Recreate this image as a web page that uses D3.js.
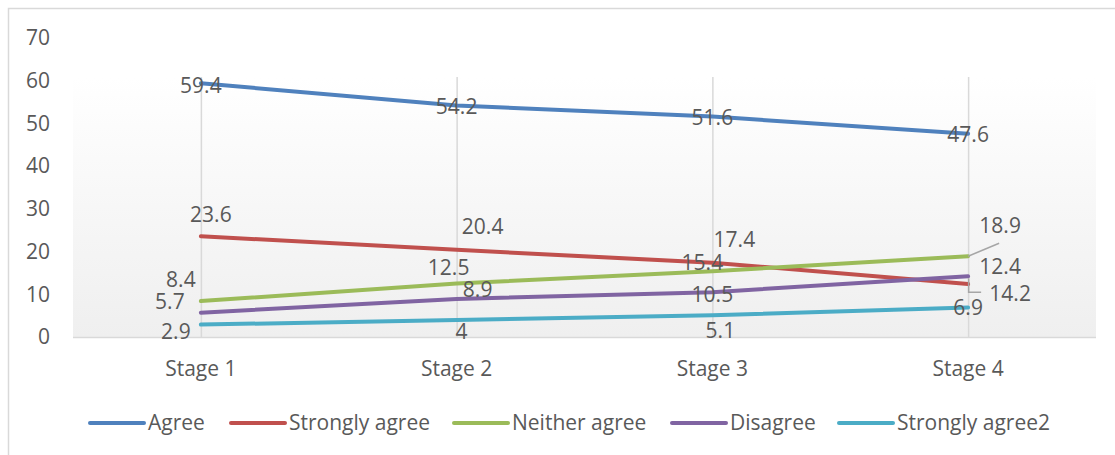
<!DOCTYPE html>
<html>
<head>
<meta charset="utf-8">
<script src="https://cdn.jsdelivr.net/npm/d3@7"></script>
<style>
  html, body { margin: 0; padding: 0; background: #fff; }
  svg { display: block; }
  text { font-family: "Open Sans", "Noto Sans", sans-serif; fill: #595959; }
</style>
</head>
<body>
<svg id="chart" width="1115" height="455"></svg>
<script>
// Survey responses by stage
const stages = ["Stage 1", "Stage 2", "Stage 3", "Stage 4"];
const seriesNames = ["Agree", "Strongly agree", "Neither agree", "Disagree", "Strongly agree2"];
const agree          = [59.4, 54.2, 51.6, 47.6];
const stronglyAgree  = [23.6, 20.4, 17.4, 12.4];
const neitherAgree   = [8.4, 12.5, 15.4, 18.9];
const disagree       = [5.7, 8.9, 10.5, 14.2];
const stronglyAgree2 = [2.9, 4, 5.1, 6.9];
const yTicks = [0, 10, 20, 30, 40, 50, 60, 70];

const seriesValues = [agree, stronglyAgree, neitherAgree, disagree, stronglyAgree2];
const colors = ["#4f81bd", "#c0504d", "#9bbb59", "#8064a2", "#4bacc6"];

// Hand-placed data-label nudges (dx, dy from the point), per series and stage
const labelNudges = [
  [[0, 2], [0, 1], [0, 1], [0, 1]],
  [[10, -22], [26, -23], [22, -23], [32, -17]],
  [[-20, -21], [-8, -16], [-10, -9], [32, -31]],
  [[-31, -11], [21, -9], [0, 2], [42, 17]],
  [[-25, 7], [5, 12], [8, 15], [0, 0]]
];

const FS = "21px";
const svg = d3.select("#chart");

// chart frame
svg.append("path")
  .attr("d", "M8.5,470 V8.5 H1130")
  .attr("fill", "none")
  .attr("stroke", "#d9d9d9")
  .attr("stroke-width", 1.5);

const plot = { left: 73, right: 1096, top: 77, bottom: 337 };

const x = d3.scaleBand().domain(stages).range([plot.left, plot.right]);
const cx = s => x(s) + x.bandwidth() / 2;
const y = d3.scaleLinear().domain([0, 70]).range([337, 38]);

// plot-area gradient fill
const defs = svg.append("defs");
const grad = defs.append("linearGradient")
  .attr("id", "plotFill").attr("x1", 0).attr("y1", 0).attr("x2", 0).attr("y2", 1);
grad.append("stop").attr("offset", "0%").attr("stop-color", "#ffffff");
grad.append("stop").attr("offset", "100%").attr("stop-color", "#efefef");
svg.append("rect")
  .attr("x", plot.left).attr("y", plot.top)
  .attr("width", plot.right - plot.left).attr("height", plot.bottom - plot.top)
  .attr("fill", "url(#plotFill)");

// vertical gridlines at each stage
svg.append("g").selectAll("line").data(stages).join("line")
  .attr("x1", d => cx(d) + 0.5).attr("x2", d => cx(d) + 0.5)
  .attr("y1", plot.top).attr("y2", plot.bottom)
  .attr("stroke", "#d9d9d9").attr("stroke-width", 1.5);

// category axis line
svg.append("line")
  .attr("x1", plot.left).attr("x2", plot.right)
  .attr("y1", plot.bottom + 0.5).attr("y2", plot.bottom + 0.5)
  .attr("stroke", "#d9d9d9").attr("stroke-width", 1.5);

// y tick labels
svg.append("g").selectAll("text").data(yTicks).join("text")
  .attr("x", 50).attr("y", d => y(d))
  .attr("dy", "0.35em")
  .attr("text-anchor", "end")
  .style("font-size", FS)
  .text(d => d);

// x category labels
svg.append("g").selectAll("text").data(stages).join("text")
  .attr("x", d => cx(d)).attr("y", 369)
  .attr("dy", "0.35em")
  .attr("text-anchor", "middle")
  .style("font-size", FS)
  .text(d => d);

// series lines
const line = d3.line().x((d, i) => cx(stages[i])).y(d => y(d));
svg.append("g").selectAll("path").data(seriesValues).join("path")
  .attr("d", d => line(d))
  .attr("fill", "none")
  .attr("stroke", (d, i) => colors[i])
  .attr("stroke-width", 4)
  .attr("stroke-linecap", "round")
  .attr("stroke-linejoin", "round");

// leader lines for the two displaced labels at Stage 4
const s4 = cx("Stage 4");
svg.append("path")
  .attr("d", `M${s4},${y(neitherAgree[3])} L${s4 + 31},${y(neitherAgree[3]) - 13}`)
  .attr("fill", "none").attr("stroke", "#a6a6a6").attr("stroke-width", 1.5);
svg.append("path")
  .attr("d", `M${s4 + 0.5},${y(disagree[3]) + 2} V${y(disagree[3]) + 16} H${s4 + 13}`)
  .attr("fill", "none").attr("stroke", "#a6a6a6").attr("stroke-width", 1.5);

// data labels
const labels = [];
seriesValues.forEach((vals, si) => {
  vals.forEach((v, i) => {
    labels.push({ v, x: cx(stages[i]) + labelNudges[si][i][0], y: y(v) + labelNudges[si][i][1] });
  });
});
svg.append("g").selectAll("text").data(labels).join("text")
  .attr("x", d => d.x).attr("y", d => d.y)
  .attr("dy", "0.35em")
  .attr("text-anchor", "middle")
  .style("font-size", FS)
  .text(d => d.v);

// legend
const legendX = [90, 231, 454, 672, 839];
const lg = svg.append("g").selectAll("g").data(seriesNames).join("g")
  .attr("transform", (d, i) => `translate(${legendX[i]},423)`);
lg.append("line")
  .attr("x1", 0).attr("x2", 54).attr("y1", 0).attr("y2", 0)
  .attr("stroke", (d, i) => colors[i])
  .attr("stroke-width", 4)
  .attr("stroke-linecap", "round");
lg.append("text")
  .attr("x", 58).attr("y", 0).attr("dy", "0.35em")
  .style("font-size", FS)
  .text(d => d);
</script>
</body>
</html>
